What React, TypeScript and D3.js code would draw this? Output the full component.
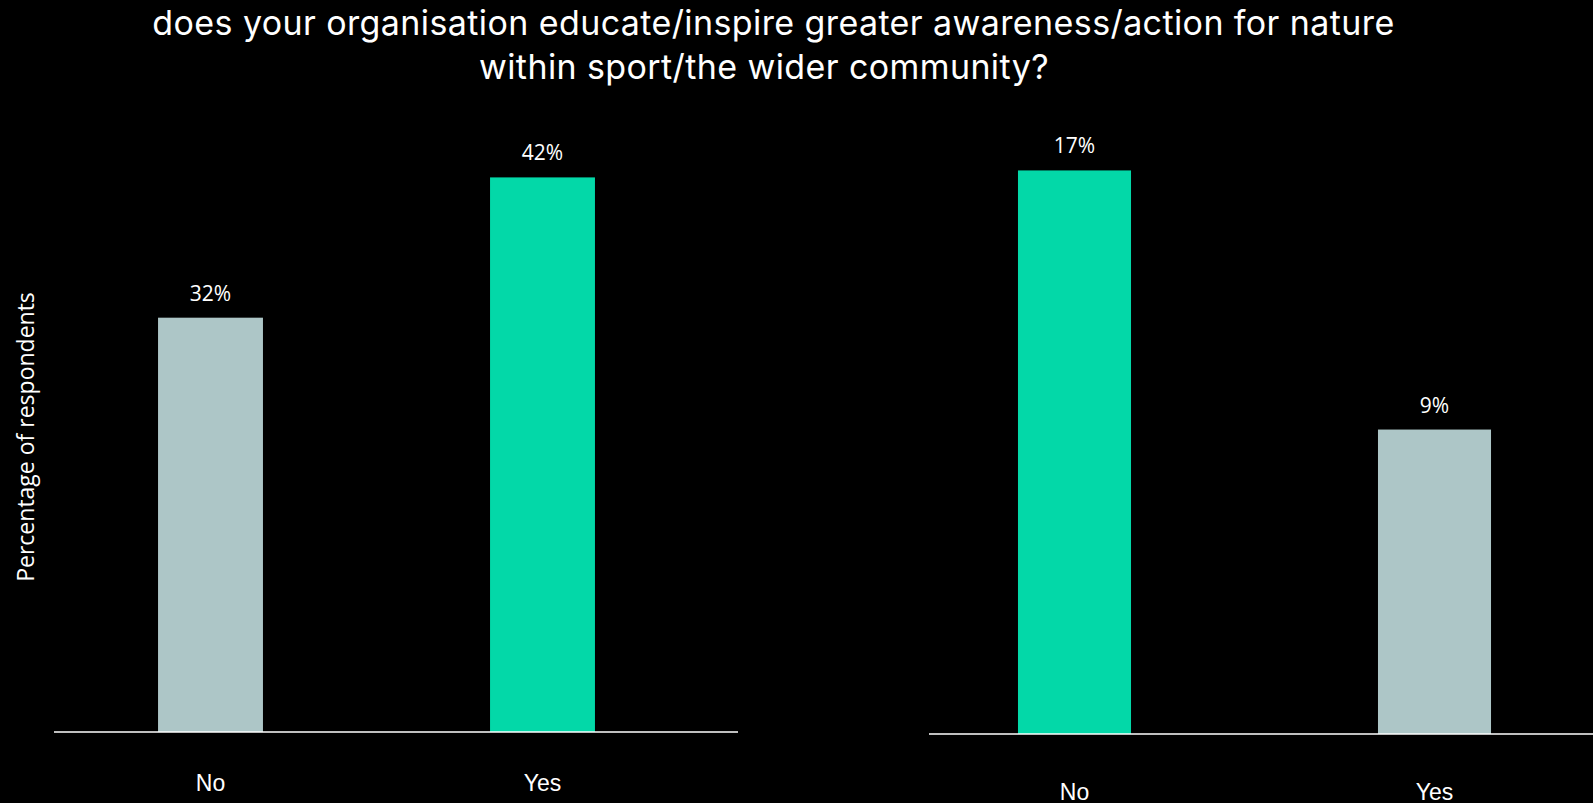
import React, { useEffect } from "react";
import * as d3 from "d3";

// ---- data ----
const categories = ["No", "Yes"];
const leftValues = [31.6, 42.3];
const rightValues = [17.4, 9.4];
const leftColors = ["#ADC6C7", "#03D8A8"];
const rightColors = ["#03D8A8", "#ADC6C7"];
const titleLines = [
  "does your organisation educate/inspire greater awareness/action for nature",
  "within sport/the wider community?",
];
const yAxisTitle = "Percentage of respondents";

const W = 1593;
const H = 803;

type Panel = {
  values: number[];
  colors: string[];
  x: d3.ScaleBand<string>;
  y: d3.ScaleLinear<number, number>;
  axisX: [number, number];
  labelOffset: number;
};

const panels: Panel[] = [
  {
    values: leftValues,
    colors: leftColors,
    x: d3.scaleBand<string>().domain(categories).range([44.5, 708.5]).paddingInner(0.684).paddingOuter(0.342),
    y: d3.scaleLinear().domain([0, 45]).range([732, 142]),
    axisX: [54, 738],
    labelOffset: 59,
  },
  {
    values: rightValues,
    colors: rightColors,
    x: d3.scaleBand<string>().domain(categories).range([894.5, 1614.5]).paddingInner(0.686).paddingOuter(0.343),
    y: d3.scaleLinear().domain([0, 18]).range([734, 151]),
    axisX: [929, 1593],
    labelOffset: 66,
  },
];

const titleStyle = {
  fontFamily: "Inter, 'Noto Sans', sans-serif",
  fontSize: 34,
  letterSpacing: 0.4,
};

export default function App() {
  useEffect(() => {
    document.body.style.margin = "0";
    document.body.style.background = "#000";
  }, []);

  return (
    <svg
      width={W}
      height={H}
      style={{ position: "absolute", left: 0, top: 0, display: "block", background: "#000" }}
    >
      <rect x={0} y={0} width={W} height={H} fill="#000" />
      <text x={773.5} y={35} textAnchor="middle" fill="#fff" style={titleStyle}>
        {titleLines[0]}
      </text>
      <text x={764} y={79} textAnchor="middle" fill="#fff" style={titleStyle}>
        {titleLines[1]}
      </text>
      <text
        transform="translate(34,437) rotate(-90)"
        textAnchor="middle"
        fill="#fff"
        style={{ fontFamily: "'Open Sans', sans-serif", fontSize: 23 }}
      >
        {yAxisTitle}
      </text>
      {panels.map((p, pi) => (
        <g key={pi}>
          {categories.map((c, i) => {
            const x0 = p.x(c) as number;
            const bw = p.x.bandwidth();
            const top = p.y(p.values[i]);
            const base = p.y(0);
            return (
              <g key={c}>
                <rect x={x0} y={top} width={bw} height={base - top} fill={p.colors[i]} />
                <text
                  x={x0 + bw / 2}
                  y={top - 17}
                  textAnchor="middle"
                  fill="#fff"
                  style={{ fontFamily: "'Open Sans', sans-serif", fontSize: 21 }}
                >
                  {`${Math.round(p.values[i])}%`}
                </text>
                <text
                  x={x0 + bw / 2}
                  y={base + p.labelOffset}
                  textAnchor="middle"
                  fill="#fff"
                  style={{ fontFamily: "'Liberation Sans', Arial, sans-serif", fontSize: 23 }}
                >
                  {c}
                </text>
              </g>
            );
          })}
          <line
            x1={p.axisX[0]}
            x2={p.axisX[1]}
            y1={p.y(0)}
            y2={p.y(0)}
            stroke="#fff"
            strokeWidth={1.5}
          />
        </g>
      ))}
    </svg>
  );
}
